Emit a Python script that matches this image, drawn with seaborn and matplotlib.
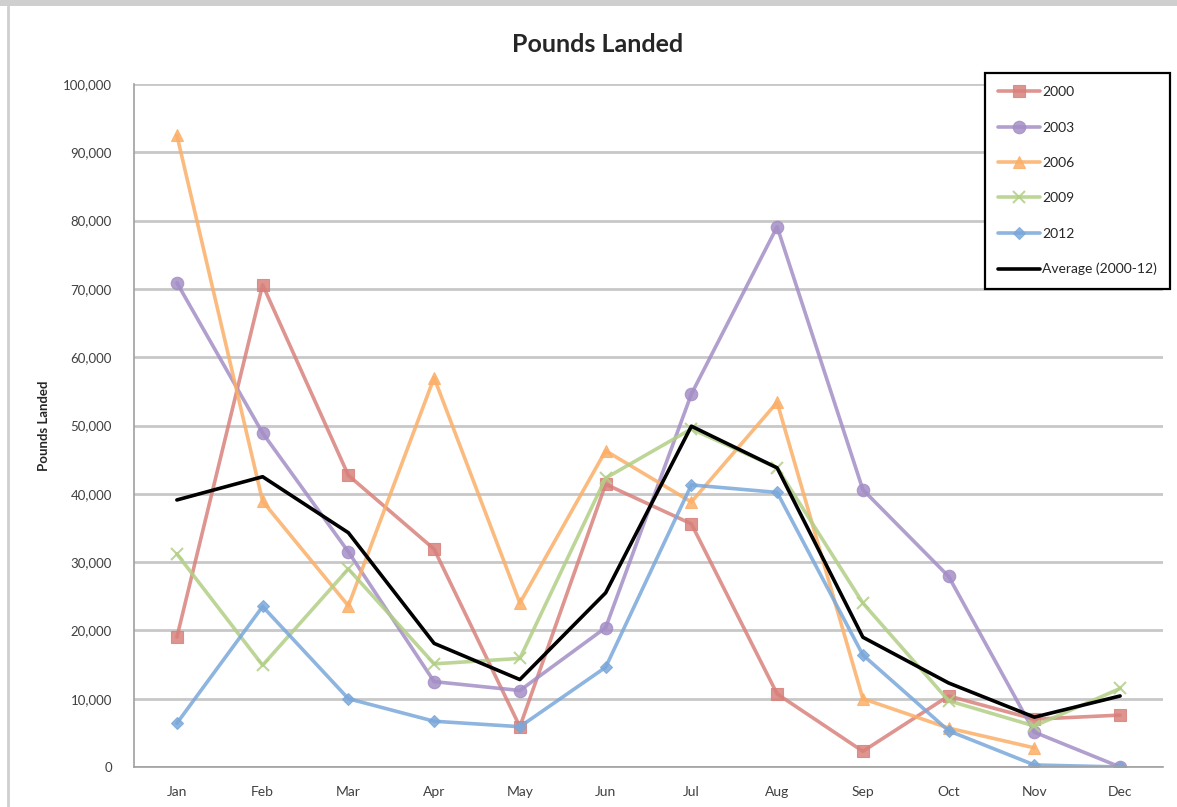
import numpy as np
import pandas as pd
import matplotlib
matplotlib.use('Agg')
import matplotlib.pyplot as plt
from matplotlib.lines import Line2D
from matplotlib.patches import Rectangle
import seaborn as sns

months = ['Jan', 'Feb', 'Mar', 'Apr', 'May', 'Jun', 'Jul', 'Aug', 'Sep', 'Oct', 'Nov', 'Dec']
y2000 = [19000, 70600, 42700, 31900, 5900, 41400, 35600, 10700, 2300, 10400, 7000, 7600]
y2003 = [70900, 48900, 31500, 12500, 11200, 20400, 54600, 79100, 40600, 27900, 5100, 0]
y2006 = [92500, 38900, 23600, 57000, 24000, 46300, 38800, 53400, 10000, 5700, 2800, np.nan]
y2009 = [31200, 14900, 29000, 15100, 15900, 42300, 49500, 43800, 24000, 9700, 6000, 11500]
y2012 = [6400, 23500, 10000, 6700, 5900, 14600, 41300, 40200, 16400, 5300, 300, 0]
avg = [39100, 42500, 34300, 18100, 12800, 25500, 49900, 43800, 19000, 12300, 7300, 10400]

series = [('2000', y2000, '#d9817c', 's'),
          ('2003', y2003, '#a48ec6', 'o'),
          ('2006', y2006, '#fbaf68', '^'),
          ('2009', y2009, '#b2cf86', 'x'),
          ('2012', y2012, '#7aa8da', 'D')]

sns.set_style('white')
plt.rcParams['font.family'] = ['Lato', 'DejaVu Sans']

fig = plt.figure(figsize=(11.77, 8.07), dpi=100)
ax = fig.add_axes([134/1177, 40/807, (1163-134)/1177, (767-84)/807])

x = np.arange(len(months))
for name, vals, col, mk in series:
    df = pd.DataFrame({'month': x, 'val': vals}).dropna()
    ms = 9 if mk != 'D' else 6.5
    sns.lineplot(data=df, x='month', y='val', ax=ax, color=col, lw=2.6, alpha=0.85,
                 marker=mk, markersize=ms, markeredgewidth=1.5 if mk == 'x' else 0.8,
                 markeredgecolor=col, markerfacecolor=col, label=name, sort=False)
dfa = pd.DataFrame({'month': x, 'val': avg})
sns.lineplot(data=dfa, x='month', y='val', ax=ax, color='black', lw=2.6,
             label='Average (2000-12)', sort=False)

ax.set_xlim(-0.5, 11.5)
ax.set_ylim(0, 100000)
ax.set_yticks(np.arange(0, 100001, 10000))
ax.set_yticklabels(['0'] + ['{:,}'.format(v) for v in range(10000, 100001, 10000)],
                   fontsize=9.5, color='#404040')
ax.set_xticks(x)
ax.set_xticklabels(months, fontsize=10, color='#404040')
ax.set_xticks(np.arange(-0.5, 12, 1), minor=True)
ax.tick_params(axis='x', which='major', length=0, pad=14)
ax.tick_params(axis='x', which='minor', length=5, color='#a0a0a0', width=1.2, direction='out')
ax.tick_params(axis='y', which='major', length=6, color='#a0a0a0', width=1.2, direction='out', pad=10)
ax.yaxis.grid(True, color='#c8c8c8', lw=2)
ax.set_axisbelow(True)
for s in ['top', 'right']:
    ax.spines[s].set_visible(False)
for s in ['left', 'bottom']:
    ax.spines[s].set_color('#a0a0a0')
    ax.spines[s].set_linewidth(1.2)

ax.set_xlabel('')
ax.set_ylabel('Pounds Landed', fontsize=9.5, fontweight='bold')
ax.yaxis.set_label_coords((50-134)/1029, 0.5)
fig.text(598/1177, 1 - 45/807, 'Pounds Landed', fontsize=18, fontweight='bold',
         ha='center', va='center')

leg = ax.legend(loc='upper left', bbox_to_anchor=((985-134)/1029, (807-73-40)/683),
                frameon=True, fancybox=False, framealpha=1, fontsize=10, labelspacing=1.68,
                handlelength=3.0, handletextpad=0.15, borderpad=0.95, borderaxespad=0)
leg.get_frame().set_edgecolor('black')
leg.get_frame().set_linewidth(1.6)
leg.set_zorder(10)

# chart border like the spreadsheet frame
fig.add_artist(Rectangle((0, 1 - 6/807), 1, 6/807, transform=fig.transFigure,
                         color='#cfcfcf', lw=0))
fig.add_artist(Line2D([8/1177, 8/1177], [0, 1 - 6/807], transform=fig.transFigure,
                      color='#cfcfcf', lw=2))

fig.savefig('out.png', dpi=100)
